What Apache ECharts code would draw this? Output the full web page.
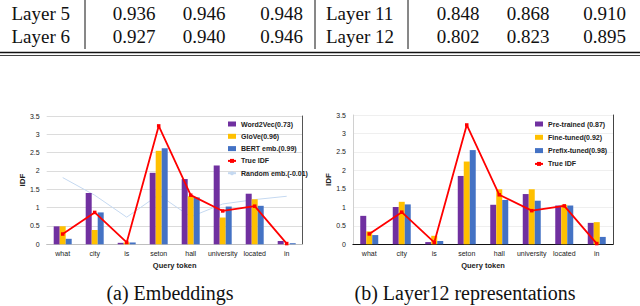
<!DOCTYPE html>
<html><head><meta charset="utf-8">
<script src="https://cdn.jsdelivr.net/npm/echarts@6/dist/echarts.min.js"></script>
<style>
html,body{margin:0;padding:0;background:#fff}
#wrap{position:relative;width:640px;height:306px;overflow:hidden}
#c{position:absolute;left:0;top:0;width:640px;height:306px}
.t{position:absolute;white-space:nowrap;font-family:'Liberation Serif',serif;color:#111}
</style>
</head><body><div id="wrap"><div id="c"></div></div>
<script>
// ---- data ----
const categories = ['what','city','is','seton','hall','university','located','in'];
// (a) Embeddings
const word2vec  = [0.49,1.40,0.04,1.95,1.78,2.15,1.38,0.09];
const glove     = [0.49,0.39,0.05,2.55,1.31,0.73,1.23,0.01];
const bertEmb   = [0.15,0.87,0.05,2.62,1.28,1.03,1.05,0.03];
const randomEmb = [1.82,1.34,0.74,1.35,0.75,1.10,1.22,1.31];
const trueIdf   = [0.28,0.87,0.05,3.23,1.34,0.91,1.04,0.02];
// (b) Layer12 representations
const preTrained  = [0.77,1.01,0.06,1.85,1.07,1.36,1.05,0.58];
const fineTuned   = [0.35,1.15,0.23,2.24,1.49,1.49,1.07,0.60];
const prefixTuned = [0.25,1.08,0.09,2.55,1.20,1.18,1.05,0.20];
const namesA = ['Word2Vec(0.73)','GloVe(0.96)','BERT emb.(0.99)','True IDF','Random emb.(-0.01)'];
const namesB = ['Pre-trained (0.87)','Fine-tuned(0.92)','Prefix-tuned(0.98)','True IDF'];
const yMin = 0, yMax = 3.5, yStep = 0.5;
// table rows above the charts
const tableRow1 = ['Layer 5','0.936','0.946','0.948','Layer 11','0.848','0.868','0.910'];
const tableRow2 = ['Layer 6','0.927','0.940','0.946','Layer 12','0.802','0.823','0.895'];
const captionA = '(a)  Embeddings';
const captionB = '(b)  Layer12 representations';

// ---- styles ----
const C_PURPLE = '#7030A0', C_GOLD = '#FFC000', C_BLUE = '#4472C4', C_RED = '#FF0000', C_RAND = '#C5D9F1';
const SANS = 'Liberation Sans';

const chart = echarts.init(document.getElementById('c'), null, {renderer:'svg'});

function xAx(gi){
  return {type:'category', gridIndex:gi, data:categories,
    axisTick:{show:false}, axisLine:{lineStyle:{color:'#bfbfbf', width:1}},
    axisLabel:{fontSize:7, color:'#222', fontFamily:SANS, margin:6, interval:0},
    name:'Query token', nameLocation:'middle', nameGap:17,
    nameTextStyle:{fontSize:7.5, fontWeight:'bold', color:'#222', fontFamily:SANS}};
}
function yAx(gi, gridColor, showLine){
  return {type:'value', gridIndex:gi, min:yMin, max:yMax, interval:yStep,
    axisLine:{show:showLine, lineStyle:{color:'#d0d0d0'}}, axisTick:{show:false},
    axisLabel:{fontSize:7, color:'#222', fontFamily:SANS, margin:7},
    splitLine:{lineStyle:{color:gridColor, width:1}},
    name:'IDF', nameLocation:'middle', nameGap:20,
    nameTextStyle:{fontSize:8, fontWeight:'bold', color:'#222', fontFamily:SANS}};
}
function borderY(gi, color){
  return {type:'value', gridIndex:gi, min:yMin, max:yMax, position:'right',
    axisLine:{show:true, onZero:false, lineStyle:{color:color, width:1}}, axisTick:{show:false},
    axisLabel:{show:false}, splitLine:{show:false}};
}
function bar(name, data, color, xi){
  return {type:'bar', name, data, xAxisIndex:xi, yAxisIndex:xi*2, barWidth:6, barGap:'0%',
    itemStyle:{color}, emphasis:{disabled:true}};
}
function idfLine(data, xi){
  return {type:'line', name:'True IDF', data, xAxisIndex:xi, yAxisIndex:xi*2,
    lineStyle:{color:C_RED, width:1.8}, itemStyle:{color:C_RED},
    symbol:'rect', symbolSize:3.5, z:5};
}

// table rules drawn by echarts graphic
const graphics = [];
[85,315,408].forEach(x=>graphics.push({type:'line', shape:{x1:x,y1:0,x2:x,y2:49}, style:{stroke:'#111', lineWidth:1}}));
graphics.push({type:'line', shape:{x1:0,y1:52.5,x2:640,y2:52.5}, style:{stroke:'#111', lineWidth:1.4}});
graphics.push({type:'line', shape:{x1:0,y1:55.5,x2:640,y2:55.5}, style:{stroke:'#111', lineWidth:0.8}});

// serif texts (table cells and captions) as real HTML text
const wrap = document.getElementById('wrap');
function serifText(t, x, y, size, align){
  const d = document.createElement('div');
  d.className = 't';
  d.textContent = t;
  d.style.fontSize = size + 'px';
  d.style.lineHeight = size + 'px';
  d.style.top = (y - size/2) + 'px';
  d.style.left = x + 'px';
  d.style.transform = align === 'center' ? 'translateX(-50%)' : (align === 'right' ? 'translateX(-100%)' : 'none');
  wrap.appendChild(d);
}
const colX = [[11.5,'left'],[134,'center'],[204,'center'],[303,'right'],[326,'left'],[458,'center'],[528,'center'],[626,'right']];
[[tableRow1,13.5],[tableRow2,36.5]].forEach(([row,y])=>{
  row.forEach((t,i)=>serifText(t, colX[i][0], y, 19, colX[i][1]));
});
serifText(captionA, 170, 293, 20, 'center');
serifText(captionB, 465, 293, 20, 'center');

const legendCommon = {orient:'vertical', padding:0, itemWidth:8, itemHeight:5, itemGap:4.3,
  textStyle:{fontSize:7, fontWeight:'bold', color:'#222', fontFamily:SANS, lineHeight:8}, selectedMode:false};

chart.setOption({
  animation:false,
  grid:[{left:46.7, top:116, width:256, height:128.3},
        {left:353, top:115, width:260, height:129.3}],
  xAxis:[xAx(0), xAx(1),
    {type:'category', gridIndex:1, data:categories, position:'top', axisLine:{show:true, lineStyle:{color:'#111', width:1.2}},
     axisTick:{show:false}, axisLabel:{show:false}}],
  yAxis:[yAx(0,'#dcdcdc',false), borderY(0,'#555'), yAx(1,'#efefef',true), borderY(1,'#444')],
  legend:[
    Object.assign({}, legendCommon, {left:227, top:120, data:[
      {name:namesA[0], icon:'rect'},{name:namesA[1], icon:'rect'},{name:namesA[2], icon:'rect'},{name:namesA[3]},{name:namesA[4]}]}),
    Object.assign({}, legendCommon, {left:534, top:120, itemGap:5.3, data:[
      {name:namesB[0], icon:'rect'},{name:namesB[1], icon:'rect'},{name:namesB[2], icon:'rect'},{name:namesB[3]}]})
  ],
  series:[
    bar(namesA[0], word2vec, C_PURPLE, 0),
    bar(namesA[1], glove, C_GOLD, 0),
    bar(namesA[2], bertEmb, C_BLUE, 0),
    idfLine(trueIdf, 0),
    {type:'line', name:namesA[4], data:randomEmb, xAxisIndex:0, yAxisIndex:0,
      lineStyle:{color:C_RAND, width:1}, itemStyle:{color:C_RAND}, symbol:'none', z:1},
    bar(namesB[0], preTrained, C_PURPLE, 1),
    bar(namesB[1], fineTuned, C_GOLD, 1),
    bar(namesB[2], prefixTuned, C_BLUE, 1),
    idfLine(trueIdf, 1)
  ],
  graphic:graphics
});
</script></body></html>
